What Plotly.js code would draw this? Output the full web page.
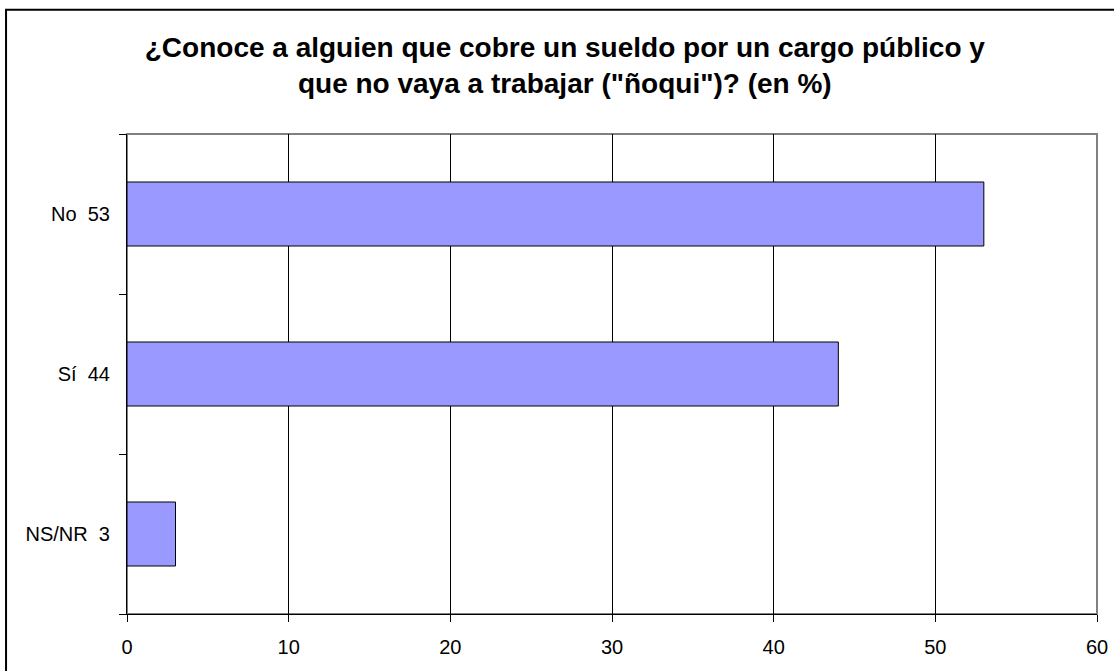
<!DOCTYPE html>
<html>
<head>
<meta charset="utf-8">
<script src="https://cdn.plot.ly/plotly-3.0.1.min.js"></script>
<style>
  html, body { margin: 0; padding: 0; background: #ffffff; }
  #chart { width: 1114px; height: 671px; }
</style>
</head>
<body>
<div id="chart"></div>
<script>
const categories = ["NS/NR", "Sí", "No"];
const values = [3, 44, 53];
const tickLabels = ["NS/NR  3", "Sí  44", "No  53"];
const xTicks = [0, 10, 20, 30, 40, 50, 60];
const titleText = "¿Conoce a alguien que cobre un sueldo por un cargo público y<br>que no vaya a trabajar (\"ñoqui\")? (en %)";

const trace = {
  type: "bar",
  orientation: "h",
  y: categories,
  x: values,
  marker: { color: "#9999ff", line: { color: "#000000", width: 1 } },
  hoverinfo: "x+y"
};

const layout = {
  width: 1114,
  height: 671,
  margin: { l: 127, r: 17, t: 134, b: 57 },
  paper_bgcolor: "#ffffff",
  plot_bgcolor: "#ffffff",
  font: { family: "Liberation Sans, Arial, sans-serif", size: 20, color: "#000000" },
  showlegend: false,
  bargap: 0.6,
  title: {
    text: titleText,
    font: { family: "Liberation Sans, Arial, sans-serif", size: 28, color: "#000000", weight: "bold" },
    x: 0.507, xref: "container", xanchor: "center",
    y: 0.915, yref: "container", yanchor: "top"
  },
  xaxis: {
    range: [0, 60],
    tickvals: xTicks,
    ticktext: xTicks.map(String),
    showgrid: true,
    gridcolor: "#000000",
    gridwidth: 1,
    zeroline: false,
    showline: true,
    linecolor: "#000000",
    linewidth: 1,
    ticks: "outside",
    ticklen: 7,
    tickcolor: "#000000",
    ticklabelstandoff: 8,
    tickfont: { size: 20 },
    fixedrange: true
  },
  yaxis: {
    type: "category",
    categoryorder: "array",
    categoryarray: categories,
    tickvals: categories,
    ticktext: tickLabels,
    tickson: "boundaries",
    ticks: "outside",
    ticklen: 7,
    tickcolor: "#000000",
    showgrid: false,
    zeroline: false,
    showline: true,
    linecolor: "#000000",
    linewidth: 1,
    ticklabelstandoff: 12,
    tickfont: { size: 20 },
    fixedrange: true
  },
  shapes: [
    {
      type: "rect", xref: "paper", yref: "paper",
      x0: 0, x1: 1, y0: 0, y1: 1,
      line: { color: "#808080", width: 2 }, layer: "below"
    },
    {
      type: "rect", xref: "paper", yref: "paper",
      x0: -0.1247, x1: 1.2, y0: -0.5, y1: 1.259,
      line: { color: "#000000", width: 2 }, layer: "above"
    }
  ]
};

Plotly.newPlot("chart", [trace], layout, { displayModeBar: false, staticPlot: false });
</script>
</body>
</html>
